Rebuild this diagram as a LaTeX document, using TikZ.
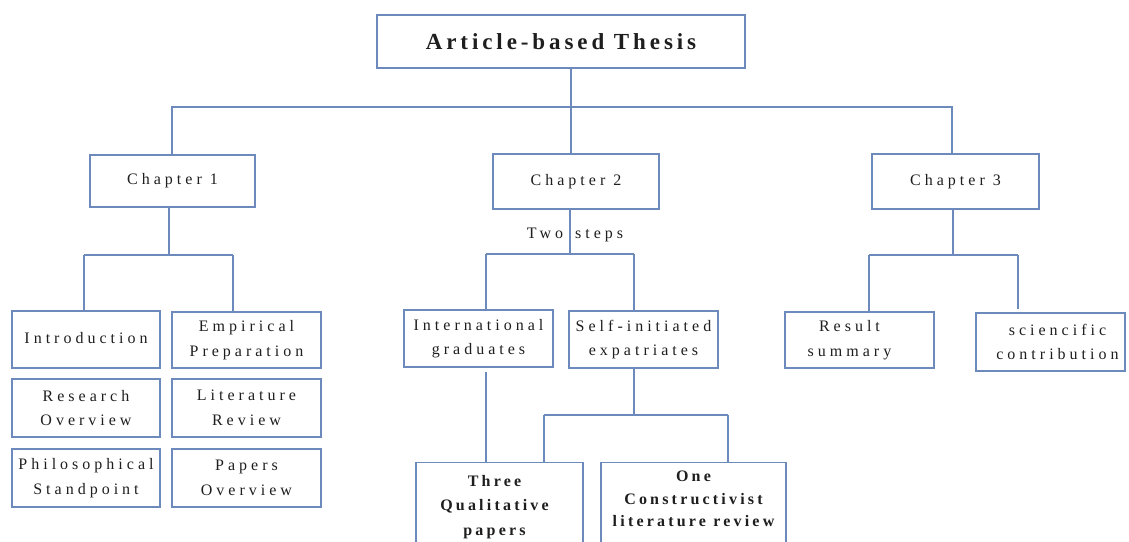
\documentclass[tikz,border=0pt]{standalone}
\usepackage{fontspec}
\setmainfont{Liberation Serif}
\newfontfamily\spfont[LetterSpace=25]{Liberation Serif}
\newfontfamily\bspfont[LetterSpace=20]{Liberation Serif}
\newfontfamily\ttlfont[LetterSpace=17]{Liberation Serif}
\definecolor{edge}{RGB}{108,138,188}
\definecolor{txt}{RGB}{30,30,30}
\tikzset{
  bx/.style={draw=edge, line width=1.2pt, inner sep=0pt, align=center, text=txt,
    font=\spfont\fontsize{16}{24.5}\selectfont},
  bbx/.style={draw=edge, line width=1.2pt, inner sep=0pt},
  bold/.style={align=center, text=txt, inner sep=0pt,
    font=\bspfont\bfseries\fontsize{16}{24.5}\selectfont},
  ln/.style={draw=edge, line width=1.2pt},
  lbl/.style={text=txt, inner sep=0pt, font=\spfont\fontsize{16}{18}\selectfont}
}
\begin{document}
\begin{tikzpicture}[x=1pt,y=-1pt]
\fill[white] (0,0) rectangle (1129,541);
\useasboundingbox (0,0) rectangle (1129,541);

% title
\node[bx, minimum width=368pt, minimum height=53pt, font=\ttlfont\bfseries\fontsize{23}{26}\selectfont] (title) at (561,41.5) {Article-based Thesis};

% chapters
\node[bx, minimum width=165pt, minimum height=52pt] (ch1) at (172.5,181) {\raisebox{-3pt}{Chapter 1}};
\node[bx, minimum width=166pt, minimum height=55pt] (ch2) at (576,181.5) {\raisebox{-2pt}{Chapter 2}};
\node[bx, minimum width=167pt, minimum height=55pt] (ch3) at (955.5,181.5) {\raisebox{-2pt}{Chapter 3}};

% chapter 1 children
\node[bx, minimum width=148pt, minimum height=57pt] (intro) at (86,339.5) {\raisebox{3pt}{Introduction}};
\node[bx, minimum width=149pt, minimum height=56pt] (emp) at (246.5,340) {Empirical\\Preparation};
\node[bx, minimum width=148pt, minimum height=58pt] (res) at (86,408) {Research\\Overview};
\node[bx, minimum width=149pt, minimum height=58pt] (lit) at (246.5,408) {Literature\\Review};
\node[bx, minimum width=148pt, minimum height=58pt] (phil) at (86,478) {Philosophical\\Standpoint};
\node[bx, minimum width=149pt, minimum height=58pt] (pap) at (246.5,478) {Papers\\Overview};

% chapter 2 children
\node[bx, minimum width=149pt, minimum height=57pt] (intl) at (478.5,338.5) {International\\graduates};
\node[bx, minimum width=149pt, minimum height=57pt] (self) at (643.5,339.5) {Self-initiated\\expatriates};
\node[bbx, minimum width=167pt, minimum height=100pt, anchor=north] (three) at (499.5,462) {};
\node[bold, anchor=north] (threet) at ([xshift=-5pt,yshift=-13pt]three.north) {Three\\Qualitative\\papers};
\node[bbx, minimum width=185pt, minimum height=100pt, anchor=north] (one) at (693.5,462) {};
\node[bold, anchor=north, font=\bspfont\bfseries\fontsize{16}{22.5}\selectfont] (onet) at ([yshift=-9pt]one.north) {One\\Constructivist\\literature review};

% chapter 3 children
\node[bx, minimum width=149pt, minimum height=56pt] (result) at (859.5,340) {Result\hspace*{20pt}\\summary\hspace*{20pt}};
\node[bx, minimum width=149pt, minimum height=58pt] (sci) at (1050.5,342) {\hspace*{14pt}sciencific\\\hspace*{14pt}contribution};

% connectors: title to chapters
\coordinate (j0) at (571,107);
\coordinate (c1) at (172,107);
\coordinate (c3) at (952,107);
\draw[ln] (title.south -| j0) -- (j0);
\draw[ln] (c1 |- ch1.north) -- (c1) -- (c3) -- (c3 |- ch3.north);
\draw[ln] (j0) -- (ch2.north -| j0);

% chapter 1
\coordinate (j1) at (169,255);
\coordinate (l1) at (84,255);
\coordinate (r1) at (233,255);
\draw[ln] (ch1.south -| j1) -- (j1);
\draw[ln] (l1) -- (r1);
\draw[ln] (l1) -- (l1 |- intro.north);
\draw[ln] (r1) -- (r1 |- emp.north);

% chapter 2
\coordinate (j2) at (570,254);
\coordinate (l2) at (486,254);
\coordinate (r2) at (634,254);
\draw[ln] (ch2.south -| j2) -- (j2);
\node[lbl] (two) at (575,235) {Two\hspace*{12pt}steps};
\draw[ln] (l2) -- (r2);
\draw[ln] (l2) -- (l2 |- intl.north);
\draw[ln] (r2) -- (r2 |- self.north);
\draw[ln] ([yshift=-4pt]l2 |- intl.south) -- (l2 |- three.north);
\coordinate (j3) at (634,415);
\coordinate (l3) at (544,415);
\coordinate (r3) at (728,415);
\draw[ln] (j3 |- self.south) -- (j3);
\draw[ln] (l3) -- (r3);
\draw[ln] (l3) -- (l3 |- three.north);
\draw[ln] (r3) -- (r3 |- one.north);

% chapter 3
\coordinate (j4) at (953,255);
\coordinate (l4) at (869,255);
\coordinate (r4) at (1018,255);
\draw[ln] (ch3.south -| j4) -- (j4);
\draw[ln] (l4) -- (r4);
\draw[ln] (l4) -- (l4 |- result.north);
\draw[ln] (r4) -- ([yshift=3pt]r4 |- sci.north);
\end{tikzpicture}
\end{document}
